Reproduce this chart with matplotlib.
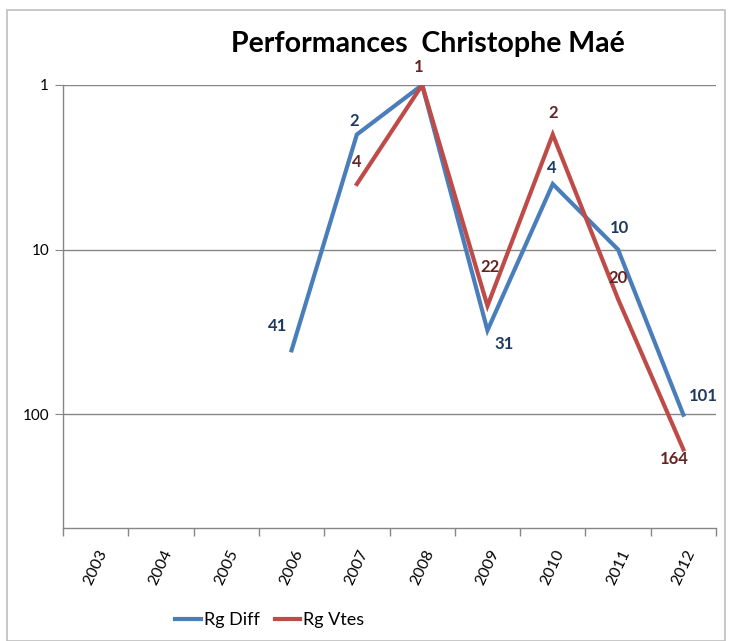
import matplotlib
matplotlib.use("Agg")
import matplotlib.pyplot as plt
from matplotlib.patches import Rectangle
import numpy as np

plt.rcParams['font.family'] = ['Lato', 'DejaVu Sans']

years = ["2003", "2004", "2005", "2006", "2007", "2008", "2009", "2010", "2011", "2012"]
rg_diff = [None, None, None, 41, 2, 1, 31, 4, 10, 101]
rg_vtes = [None, None, None, None, 4, 1, 22, 2, 20, 164]

blue = "#4A7EBB"
red = "#BE4B48"
blue_lbl = "#1F3A5F"
red_lbl = "#632523"

W, H = 732, 641
fig = plt.figure(figsize=(W / 100, H / 100), dpi=100)
ax = fig.add_axes([63 / W, 1 - 528 / H, (716 - 63) / W, (528 - 85) / H])

fig.patches.append(Rectangle((7 / W, 0), (725 - 7) / W, 1 - 10 / H, transform=fig.transFigure,
                             fill=False, edgecolor="#BFBFBF", linewidth=1.2))

x = np.arange(len(years)) + 0.5

def series(vals):
    xs = [xi for xi, v in zip(x, vals) if v is not None]
    ys = [v for v in vals if v is not None]
    return xs, ys

xd, yd = series(rg_diff)
xv, yv = series(rg_vtes)
ax.plot(xd, yd, color=blue, lw=3, solid_joinstyle="miter", label="Rg Diff", zorder=3)
ax.plot(xv, yv, color=red, lw=3, solid_joinstyle="miter", label="Rg Vtes", zorder=4)

ax.set_yscale("log")
ax.set_ylim(493, 1)
ax.set_xlim(0, len(years))
ax.set_yticks([1, 10, 100])
ax.set_yticklabels(["1", "10", "100"])
ax.yaxis.set_minor_locator(matplotlib.ticker.NullLocator())
ax.grid(axis="y", color="#868686", lw=1)
ax.set_axisbelow(True)

ax.set_xticks(np.arange(len(years) + 1))
ax.set_xticklabels([])
ax.set_xticks(x, minor=True)
ax.set_xticklabels(years, minor=True, rotation=65, fontsize=11.5, ha="center", va="top")
ax.tick_params(axis="x", which="minor", length=0, pad=14)
ax.tick_params(axis="x", which="major", length=6, color="#868686", width=1)
ax.tick_params(axis="y", length=6, color="#868686", labelsize=11, pad=4)

for s in ["top", "right"]:
    ax.spines[s].set_visible(False)
for s in ["left", "bottom"]:
    ax.spines[s].set_color("#868686")
    ax.spines[s].set_linewidth(1)

# Rg Diff label for 2008 is hidden behind the Rg Vtes label in the reference
diff_off = {3: (-14, 24), 4: (-3, 14), 6: (17, -14), 7: (-1, 16), 8: (1, 22), 9: (20, 19)}
vtes_off = {4: (0, 22), 5: (-3, 18), 6: (3, 39), 7: (0, 22), 8: (0, 21), 9: (-9, -10)}

for i, v in enumerate(rg_diff):
    if v is None or i not in diff_off:
        continue
    dx, dy = diff_off[i]
    ax.annotate(str(v), (x[i], v), xytext=(dx, dy), textcoords="offset pixels",
                ha="center", va="center", fontsize=12, fontweight="bold", color=blue_lbl, zorder=5)
for i, v in enumerate(rg_vtes):
    if v is None:
        continue
    dx, dy = vtes_off[i]
    ax.annotate(str(v), (x[i], v), xytext=(dx, dy), textcoords="offset pixels",
                ha="center", va="center", fontsize=12, fontweight="bold", color=red_lbl, zorder=6)

fig.text(428 / W, 1 - 44 / H, "Performances  Christophe Maé", ha="center", va="center",
         fontsize=20.5, fontweight="bold")

leg = fig.legend(loc="center", bbox_to_anchor=(270 / W, 1 - 620 / H), ncol=2, frameon=False,
                 fontsize=13, handlelength=1.4, columnspacing=0.8, handletextpad=0.2)

fig.savefig("out.png", dpi=100)
